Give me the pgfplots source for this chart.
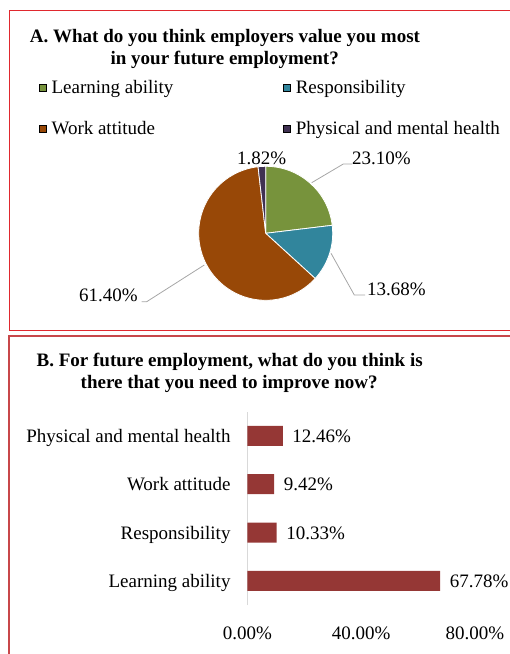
\documentclass[border=0pt]{standalone}
\usepackage{fontspec}
\setmainfont{Liberation Serif}
\usepackage{pgfplots}
\pgfplotsset{compat=1.18}
\usepackage{pgfplotstable}

\definecolor{cGreen}{HTML}{77933C}
\definecolor{cTeal}{HTML}{31859C}
\definecolor{cBrown}{HTML}{984807}
\definecolor{cPurple}{HTML}{403152}
\definecolor{cBar}{HTML}{953735}
\definecolor{cLead}{HTML}{A6A6A6}
\definecolor{cRedA}{HTML}{E0282E}
\definecolor{cRedB}{HTML}{C8474A}
\definecolor{cAxis}{HTML}{D9D9D9}

\newcommand\fs{\fontsize{19}{22.8}\selectfont}
\newcommand\bfs{\fontsize{19}{22.8}\selectfont\bfseries}

% Pie: what employers value most (percent)
\def\pA{23.10}% Learning ability
\def\pB{13.68}% Responsibility
\def\pC{61.40}% Work attitude
\def\pD{1.82}%  Physical and mental health
\pgfmathsetmacro\aA{90-3.6*\pA}
\pgfmathsetmacro\aB{\aA-3.6*\pB}
\pgfmathsetmacro\aC{\aB-3.6*\pC}
\pgfmathsetmacro\aD{\aC-3.6*\pD}

% Bars: what needs to improve now (percent)
\pgfplotstableread{
idx value
0 67.78
1 10.33
2 9.42
3 12.46
}\improve

\begin{document}
\begin{tikzpicture}[x=1pt,y=1pt]
\path[use as bounding box] (0,0) rectangle (510,654);
\begin{scope}
\clip (0,0) rectangle (510,654);
\draw[cRedA, line width=1.3pt] (530,643.3) -- (9.3,643.3) -- (9.3,323.7) -- (530,323.7);
\draw[cRedB, line width=1.3pt] (530,318) -- (9,318) -- (9,-20);
\end{scope}

\node[anchor=base, font=\bfs, inner sep=0pt] at (225,611.3) {A. What do you think employers value you most};
\node[anchor=base, font=\bfs, inner sep=0pt] at (224.7,589) {in your future employment?};
\node[anchor=base, font=\bfs, inner sep=0pt] at (229.7,287.3) {B. For future employment, what do you think is};
\node[anchor=base, font=\bfs, inner sep=0pt] at (229.2,265.7) {there that you need to improve now?};

\begin{axis}[at={(195.7pt,350.7pt)}, anchor=south west, scale only axis,
  width=140pt, height=140pt, xmin=-70, xmax=70, ymin=-70, ymax=70,
  hide axis, clip=false,
  legend columns=2, legend cell align=left,
  legend image code/.code={\fill[#1] (0pt,-3.5pt) rectangle (7pt,3.5pt);},
  legend style={draw=none, fill=none, font=\fs, inner sep=0pt, outer sep=0pt,
    nodes={inner sep=0pt}, row sep=25.8pt, column sep=5pt,
    /tikz/every even column/.append style={column sep=109.9pt},
    at={(axis cs:-226.5,152.5)}, anchor=north west}]
\addlegendimage{fill=cGreen}
\addlegendentry{Learning ability}
\addlegendimage{fill=cTeal}
\addlegendentry{Responsibility}
\addlegendimage{fill=cBrown}
\addlegendentry{Work attitude}
\addlegendimage{fill=cPurple}
\addlegendentry{Physical and mental health}

\filldraw[fill=cGreen, draw=white, line width=0.8pt] (axis cs:0,0) -- ++(90:67pt) arc[start angle=90, end angle=\aA, radius=67pt] -- cycle;
\filldraw[fill=cTeal, draw=white, line width=0.8pt] (axis cs:0,0) -- ++(\aA:67pt) arc[start angle=\aA, end angle=\aB, radius=67pt] -- cycle;
\filldraw[fill=cBrown, draw=white, line width=0.8pt] (axis cs:0,0) -- ++(\aB:67pt) arc[start angle=\aB, end angle=\aC, radius=67pt] -- cycle;
\filldraw[fill=cPurple, draw=white, line width=0.8pt] (axis cs:0,0) -- ++(\aC:67pt) arc[start angle=\aC, end angle=\aD, radius=67pt] -- cycle;

\draw[cLead, line width=0.8pt] (axis cs:46,50.6) -- (axis cs:77.6,69.3) -- (axis cs:86.3,69.3);
\draw[cLead, line width=0.8pt] (axis cs:65.3,-20) -- (axis cs:88.6,-61.7) -- (axis cs:99.3,-61.7);
\draw[cLead, line width=0.8pt] (axis cs:-61.4,-31.7) -- (axis cs:-119,-68.4) -- (axis cs:-124,-68.4);

\node[anchor=base west, font=\fs, inner sep=0pt] at (axis cs:86.3,68.3) {23.10\%};
\node[anchor=base west, font=\fs, inner sep=0pt] at (axis cs:-28.7,68.3) {1.82\%};
\node[anchor=base west, font=\fs, inner sep=0pt] at (axis cs:101.3,-62.7) {13.68\%};
\node[anchor=base west, font=\fs, inner sep=0pt] at (axis cs:-186.7,-68.4) {61.40\%};
\end{axis}

\begin{axis}[at={(247.3pt,49pt)}, anchor=south west, scale only axis,
  width=227.7pt, height=193.3pt,
  xmin=0, xmax=80, ymin=-0.5, ymax=3.5,
  ytick={0,1,2,3},
  yticklabels={Learning ability, Responsibility, Work attitude, Physical and mental health},
  xtick={0,40,80}, xticklabels={0.00\%, 40.00\%, 80.00\%},
  axis lines*=left, x axis line style={draw=none},
  y axis line style={draw=cAxis, line width=0.8pt},
  major tick length=0pt,
  tick label style={font=\fs, inner sep=0pt},
  yticklabel style={anchor=base east, xshift=-16.6pt, yshift=-6.7pt},
  xticklabel style={anchor=base, yshift=-34.3pt},
  clip=false]
\addplot[xbar, fill=cBar, draw=none, bar width=20pt,
  point meta=x,
  nodes near coords={\pgfmathprintnumber[fixed, fixed zerofill, precision=2, assume math mode=true]{\pgfplotspointmeta}\%},
  nodes near coords style={font=\fs, text=black, inner sep=0pt, anchor=base west, xshift=9.5pt, yshift=-6.7pt}]
  table[x=value, y=idx] {\improve};
\end{axis}
\end{tikzpicture}
\end{document}
